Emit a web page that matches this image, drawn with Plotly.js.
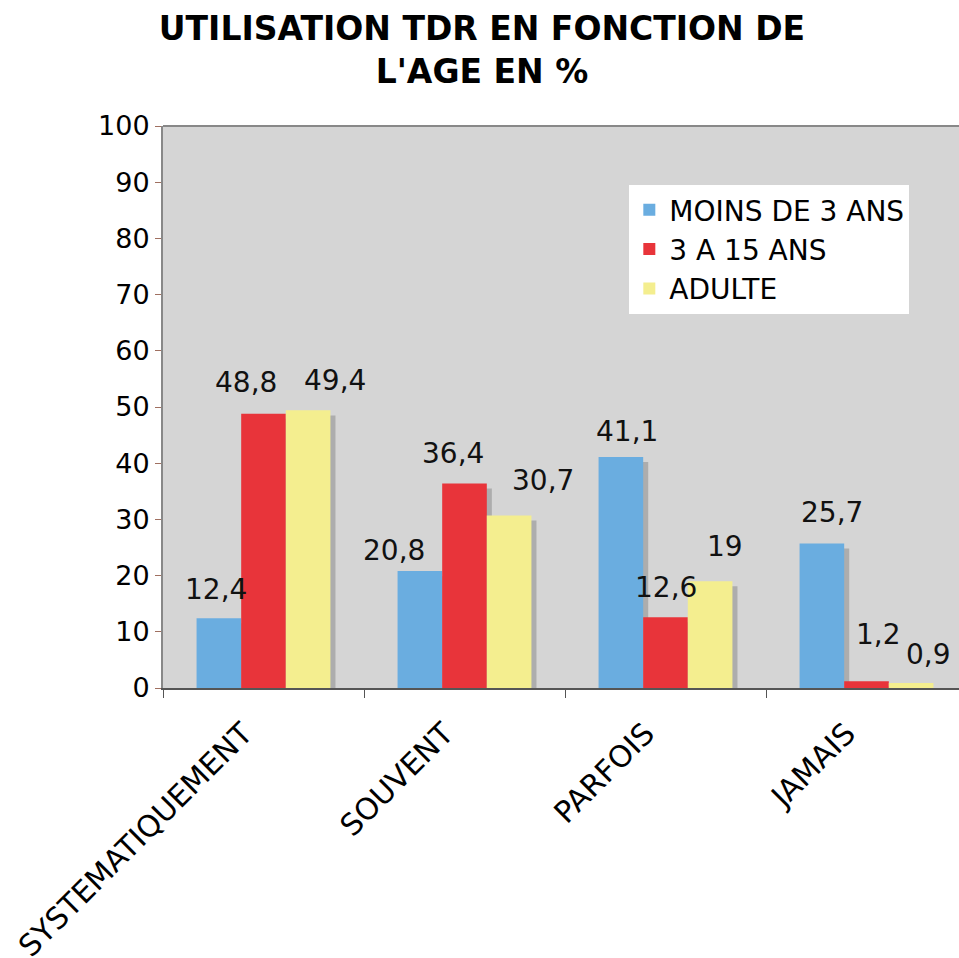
<!DOCTYPE html>
<html>
<head>
<meta charset="utf-8">
<script src="https://cdn.plot.ly/plotly-3.0.1.min.js"></script>
<style>html,body{margin:0;padding:0;overflow:hidden;background:#fff;}</style>
</head>
<body>
<div id="chart"></div>
<script>
const categories = ["SYSTEMATIQUEMENT", "SOUVENT", "PARFOIS", "JAMAIS"];
const seriesNames = ["MOINS DE 3 ANS", "3 A 15 ANS", "ADULTE"];
const moins3 = [12.4, 20.8, 41.1, 25.7];
const de3a15 = [48.8, 36.4, 12.6, 1.2];
const adulte = [49.4, 30.7, 19, 0.9];
const yTicks = [0, 10, 20, 30, 40, 50, 60, 70, 80, 90, 100];

const series = [moins3, de3a15, adulte];
const colors = ["#6aade0", "#e8343a", "#f4ee8f"];
const offsets = [-0.333, -0.111, 0.111];
const bw = 0.222;
// label placement nudges in pixels (as hand-placed in the original): [dx, dy up]
const labelNudge = [
  [[-3, 27], [-26, 19], [6, 24], [10, 29]],
  [[-18, 29], [-12, 28], [0, 28], [12, 45]],
  [[27, 28], [34, 33], [15, 33], [17, 26]]
];

const traces = [];
// shadows
series.forEach((vals, i) => {
  traces.push({
    type: "bar", x: categories, y: vals, base: -0.9,
    offset: offsets[i] + 0.025, width: bw,
    marker: {color: "#adadad", line: {width: 0}},
    showlegend: false, hoverinfo: "skip"
  });
});
series.forEach((vals, i) => {
  traces.push({
    type: "bar", x: categories, y: vals, name: seriesNames[i],
    offset: offsets[i], width: bw,
    marker: {color: colors[i], line: {width: 0}}
  });
});

const fmt = v => String(v).replace(".", ",");
const annotations = [];
series.forEach((vals, i) => {
  vals.forEach((v, j) => {
    annotations.push({
      x: j + offsets[i] + bw / 2, y: v, xref: "x", yref: "y",
      text: fmt(v), showarrow: false,
      xanchor: "center", yanchor: "middle",
      xshift: labelNudge[i][j][0], yshift: labelNudge[i][j][1] + 2,
      font: {family: "DejaVu Sans", size: 28, color: "#111"}
    });
  });
});

const layout = {
  width: 970, height: 958,
  margin: {l: 163, r: 3, t: 126, b: 270},
  paper_bgcolor: "#ffffff", plot_bgcolor: "#d5d5d5",
  barmode: "overlay",
  separators: ", ",
  showlegend: true,
  title: {
    text: "<b>UTILISATION TDR EN FONCTION DE<br>L'AGE EN %</b>",
    font: {family: "DejaVu Sans", size: 33, color: "#000"},
    x: 482/970, xref: "container", xanchor: "center",
    y: 1 - 40/958, yref: "container", yanchor: "top"
  },
  legend: {
    x: 0.58, y: 0.895, xanchor: "left", yanchor: "top",
    bgcolor: "#ffffff", borderwidth: 0,
    font: {family: "DejaVu Sans", size: 28, color: "#000"},
    traceorder: "normal", itemwidth: 30
  },
  annotations: annotations,
  xaxis: {
    type: "category", tickson: "boundaries",
    ticks: "outside", ticklen: 8, tickcolor: "#555",
    showline: true, linecolor: "#555", linewidth: 2, mirror: false,
    tickangle: -45,
    ticklabelshift: -20, ticklabelstandoff: 14,
    tickfont: {family: "DejaVu Sans", size: 30, color: "#000"},
    showgrid: false, range: [-0.5, 3.5]
  },
  yaxis: {
    range: [0, 100], tickvals: yTicks, ticktext: yTicks.map(String),
    ticks: "outside", ticklen: 6, tickcolor: "#a07060",
    showline: true, linecolor: "#888", linewidth: 2, mirror: true,
    showgrid: false, zeroline: false,
    tickfont: {family: "DejaVu Sans", size: 27, color: "#000"}
  },
  shapes: [{type: "line", xref: "paper", yref: "paper", x0: 0, x1: 1, y0: 1, y1: 1, line: {color: "#888", width: 2}}]
};

Plotly.newPlot("chart", traces, layout, {displayModeBar: false, staticPlot: true});
</script>
</body>
</html>
